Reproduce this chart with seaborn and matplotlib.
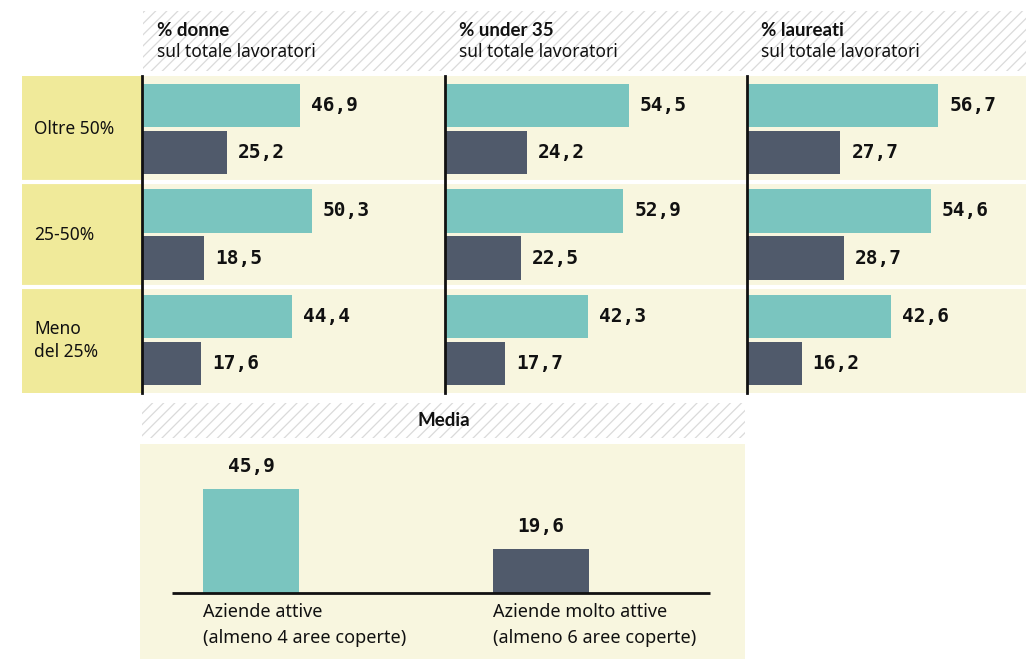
import matplotlib
matplotlib.use("Agg")
import matplotlib.pyplot as plt
import seaborn as sns
import pandas as pd
from matplotlib.patches import Rectangle

# ---------------- data ----------------
rows = ["Oltre 50%", "25-50%", "Meno\ndel 25%"]
series = ["Aziende attive", "Aziende molto attive"]
metric_titles = ["% donne", "% under 35", "% laureati"]
metric_subtitle = "sul totale lavoratori"

donne_attive = [46.9, 50.3, 44.4]
donne_molto = [25.2, 18.5, 17.6]
under35_attive = [54.5, 52.9, 42.3]
under35_molto = [24.2, 22.5, 17.7]
laureati_attive = [56.7, 54.6, 42.6]
laureati_molto = [27.7, 28.7, 16.2]

media_title = "Media"
media_categories = ["Aziende attive\n(almeno 4 aree coperte)",
                    "Aziende molto attive\n(almeno 6 aree coperte)"]
media_values = [45.9, 19.6]

# ---------------- style ----------------
TEAL = "#7AC5BF"
DARK = "#505A6B"
CREAM = "#F8F6DF"
YELLOW = "#F0EA9A"
HATCH = "#DADADA"
TXT = "#111111"
SANS = ["Noto Sans", "DejaVu Sans"]
BOLD = ["Lato", "DejaVu Sans"]
NUM = ["DejaVu Sans Mono", "DejaVu Sans"]

plt.rcParams["hatch.linewidth"] = 0.9
plt.rcParams["font.family"] = SANS

W, H = 1026, 659
fig = plt.figure(figsize=(W / 100, H / 100), dpi=100)
fig.patch.set_facecolor("white")


def px_axes(x0, y0, x1, y1):
    return fig.add_axes([x0 / W, 1 - y1 / H, (x1 - x0) / W, (y1 - y0) / H])


def hatch_band(x0, y0, x1, y1):
    ax = px_axes(x0, y0, x1, y1)
    ax.set_axis_off()
    ax.add_patch(Rectangle((0, 0), 1, 1, transform=ax.transAxes,
                           facecolor="white", edgecolor=HATCH,
                           hatch="///", linewidth=0))
    return ax


def fmt(v):
    return f"{v:.1f}".replace(".", ",")


# ---------------- top header band ----------------
hb = hatch_band(143, 11, 1026, 71)
title_x = [157, 459, 761]
for tx, t in zip(title_x, metric_titles):
    hb.text((tx - 143) / (1026 - 143), 0.67, t, transform=hb.transAxes,
            fontsize=13.5, fontweight="bold", family=BOLD, color=TXT,
            va="center", ha="left")
    hb.text((tx - 143) / (1026 - 143), 0.31, metric_subtitle, transform=hb.transAxes,
            fontsize=12.5, color=TXT, va="center", ha="left")

# ---------------- row label column ----------------
PANEL_Y0, PANEL_Y1 = 76, 393
lab = px_axes(22, PANEL_Y0, 142, PANEL_Y1)
lab.set_facecolor(YELLOW)
lab.set_xlim(0, 1)
lab.set_ylim(2.5, -0.5)
for s in lab.spines.values():
    s.set_visible(False)
lab.set_xticks([])
lab.set_yticks([])
for i, r in enumerate(rows):
    lab.text(0.10, i, r, fontsize=12.5, color=TXT, va="center", ha="left",
             linespacing=1.35)
for yy in (0.5, 1.5):
    lab.axhline(yy, color="white", lw=3)

# ---------------- three horizontal bar panels ----------------
panel_data = [(donne_attive, donne_molto),
              (under35_attive, under35_molto),
              (laureati_attive, laureati_molto)]
panel_x = [(142, 445), (445, 747), (747, 1026)]
PX_PER_UNIT = 3.37

for (x0, x1), (a, m) in zip(panel_x, panel_data):
    ax = px_axes(x0, PANEL_Y0, x1, PANEL_Y1)
    df = pd.DataFrame({
        "row": rows * 2,
        "serie": [series[0]] * 3 + [series[1]] * 3,
        "value": list(a) + list(m),
    })
    sns.barplot(data=df, x="value", y="row", hue="serie", orient="h",
                order=rows, hue_order=series, palette=[TEAL, DARK],
                saturation=1, width=0.892, gap=0.08, legend=False, ax=ax,
                edgecolor="none", linewidth=0)
    ax.set_facecolor(CREAM)
    ax.set_xlim(0, (x1 - x0) / PX_PER_UNIT)
    ax.set_ylim(2.5, -0.5)
    ax.set(xlabel="", ylabel="", xticks=[], yticks=[])
    for k, s in ax.spines.items():
        s.set_visible(k == "left")
    ax.spines["left"].set_color("#111111")
    ax.spines["left"].set_linewidth(2)
    for cont, vals in zip(ax.containers, (a, m)):
        ax.bar_label(cont, labels=[fmt(v) for v in vals], padding=8,
                     fontsize=14, fontweight="bold", family=NUM, color=TXT)
    for yy in (0.5, 1.5):
        ax.axhline(yy, color="white", lw=3, zorder=0.5)

# ---------------- bottom "Media" section ----------------
mb = hatch_band(142, 403, 745, 438)
mb.text(0.5, 0.5, media_title, transform=mb.transAxes, fontsize=13.5,
        fontweight="bold", family=BOLD, color=TXT, ha="center", va="center")

bx = px_axes(140, 444, 745, 659)
sns.barplot(x=media_categories, y=media_values, hue=media_categories,
            palette=[TEAL, DARK], saturation=1, width=0.331, legend=False,
            ax=bx, edgecolor="none", linewidth=0)
bx.set_facecolor(CREAM)
bx.set_xlim(-0.383, 1.703)
bx.set_ylim(-29, 65.6)
bx.set(xlabel="", ylabel="", xticks=[], yticks=[])
for s in bx.spines.values():
    s.set_visible(False)
bx.hlines(0, -0.272, 1.583, color="#111111", lw=2, zorder=3)
for cont, v in zip(bx.containers, media_values):
    bx.bar_label(cont, labels=[fmt(v)], padding=9, fontsize=14,
                 fontweight="bold", family=NUM, color=TXT)
for i, c in enumerate(media_categories):
    bx.text(i - 0.331 / 2, -4.5, c, fontsize=13, color=TXT, ha="left", va="top",
            linespacing=1.55)

fig.savefig("out.png", dpi=100, facecolor="white")
